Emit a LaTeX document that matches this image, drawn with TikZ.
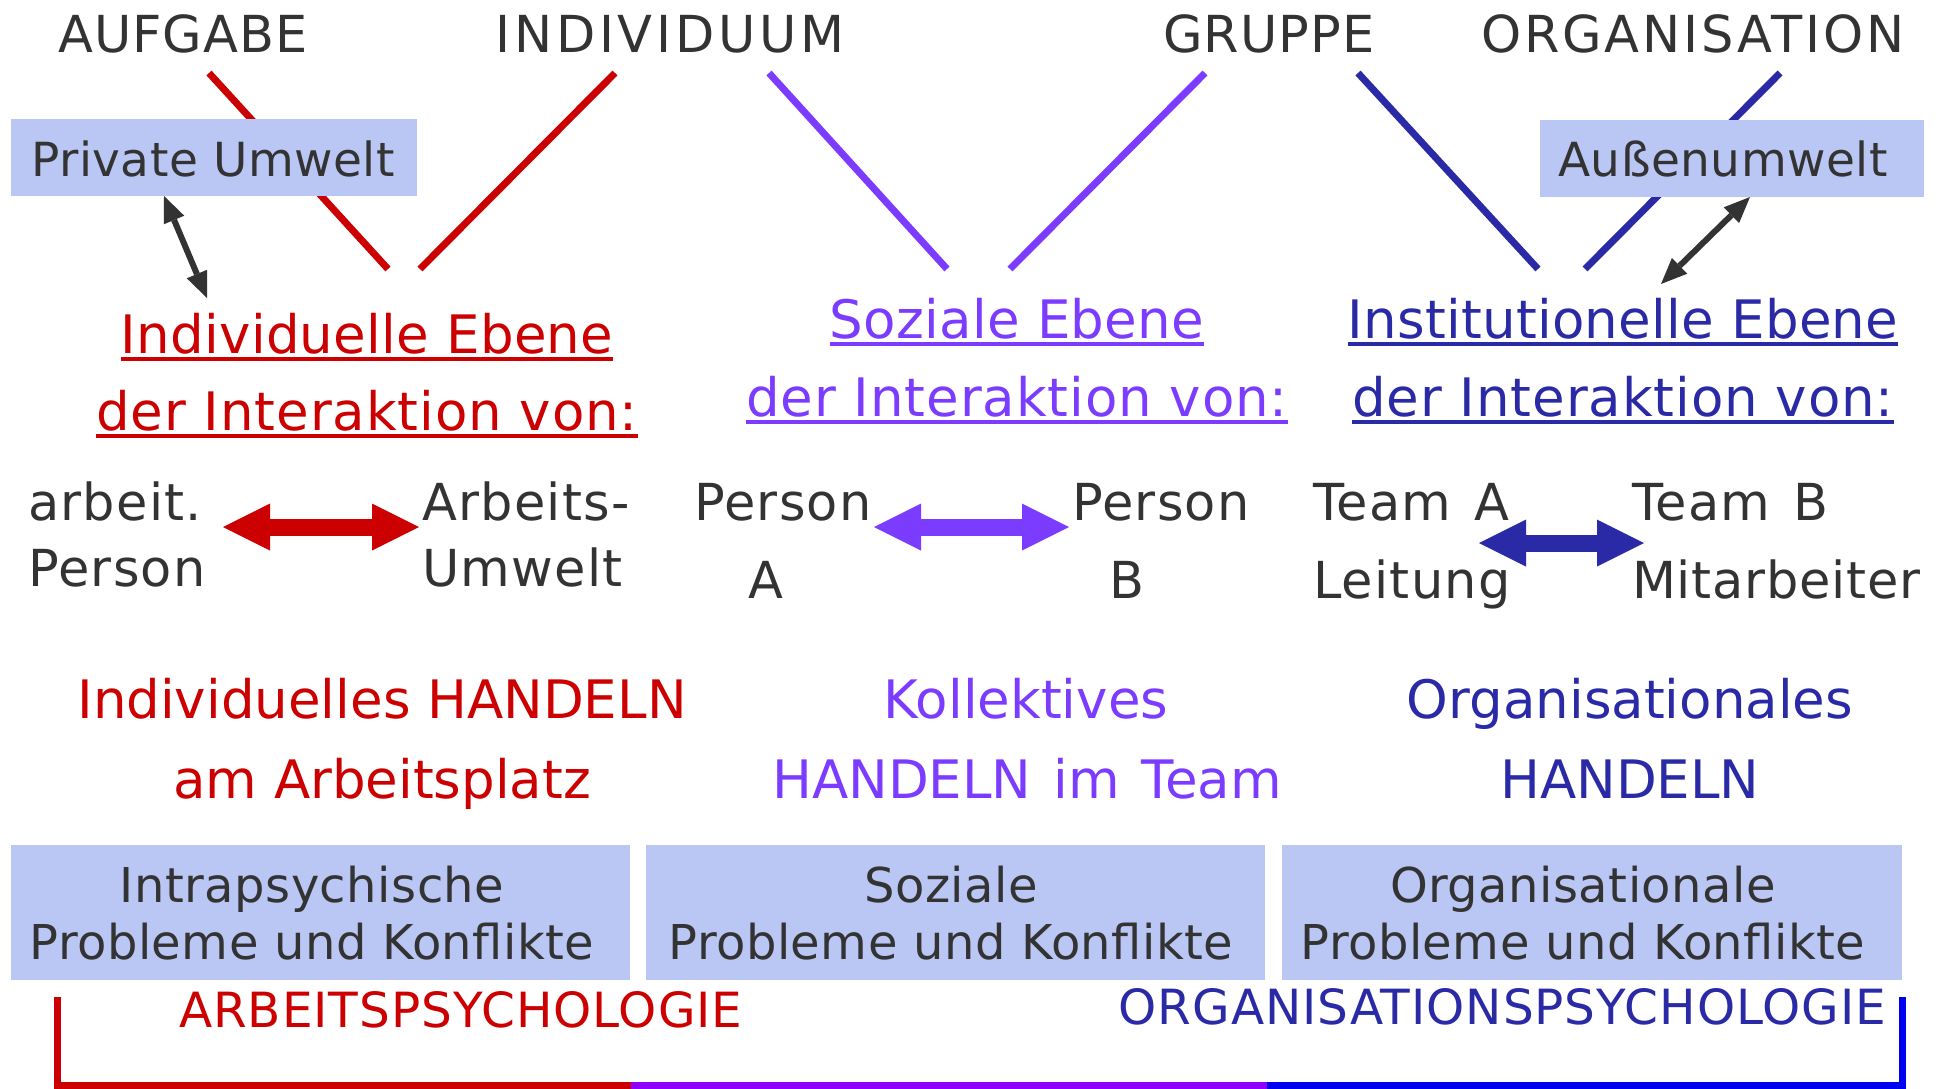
\documentclass[tikz,border=0pt]{standalone}
\usepackage{fontspec}
\setmainfont{DejaVu Sans}
\usetikzlibrary{arrows.meta}
\definecolor{cred}{HTML}{CC0000}
\definecolor{cpur}{HTML}{7B3CFF}
\definecolor{cblu}{HTML}{2A2AA6}
\definecolor{cgray}{HTML}{333333}
\definecolor{cbox}{HTML}{BAC6F3}
\definecolor{bpur}{HTML}{8F00FF}
\definecolor{bblu}{HTML}{0000F0}
\newcommand\lsp[1]{\addfontfeatures{LetterSpace=#1}}
\newcommand\wsp[1]{\spaceskip=#1\fontdimen2\font\relax}
\begin{document}
\begin{tikzpicture}[x=1pt,y=-1pt,
  txt/.style={inner sep=0pt, outer sep=0pt},
  toplabel/.style={txt, anchor=base, text=cgray, font=\fontsize{51}{60}\selectfont\lsp{2}},
  titletxt/.style={txt, anchor=base, font=\fontsize{53}{60}\selectfont\lsp{0.5}},
  titletxtb/.style={txt, anchor=base, font=\fontsize{53}{60}\selectfont\lsp{1.7}},
  inttxt/.style={txt, anchor=base west, text=cgray, font=\fontsize{51}{60}\selectfont\lsp{2.5}\wsp{1.3}},
  intctr/.style={txt, anchor=base, text=cgray, font=\fontsize{51}{60}\selectfont},
  acttxt/.style={txt, anchor=base, font=\fontsize{53}{60}\selectfont},
  boxfill/.style={fill=cbox, draw=none, inner sep=0pt, outer sep=0pt, anchor=north west},
  boxtxt/.style={txt, anchor=base, text=cgray, font=\fontsize{48}{56}\selectfont\lsp{1}},
  smalltxt/.style={txt, anchor=base, text=cgray, font=\fontsize{47}{56}\selectfont\lsp{1}},
  psytxt/.style={txt, font=\fontsize{48.5}{56}\selectfont\lsp{2}},
  vline/.style={line width=7pt},
  uline/.style={line width=4pt},
  blockarrow/.style={line width=17pt, {Triangle[width=47pt,length=47pt,line width=0pt]}-{Triangle[width=47pt,length=47pt,line width=0pt]}},
  smallarrow/.style={cgray, line width=6pt, {Triangle[width=22pt,length=26pt,line width=0pt]}-{Triangle[width=22pt,length=26pt,line width=0pt]}},
  bracket/.style={line width=7pt, line join=miter}
]
\useasboundingbox (0,0) rectangle (1939,1088);

% top labels
\node[toplabel] (aufg) at (183,52) {AUFGABE};
\node[toplabel, font=\fontsize{51}{60}\selectfont\lsp{7.4}] (indiv) at (670,52) {INDIVIDUUM};
\node[toplabel] (grup) at (1269,52) {GRUPPE};
\node[toplabel, font=\fontsize{51}{60}\selectfont\lsp{5.7}] (orga) at (1693,52) {ORGANISATION};

% V lines
\coordinate (r1a) at (209,73);  \coordinate (r1b) at (388,269);
\coordinate (r2a) at (615,73);  \coordinate (r2b) at (420,269);
\coordinate (p1a) at (769,73);  \coordinate (p1b) at (947,269);
\coordinate (p2a) at (1205,73); \coordinate (p2b) at (1010,269);
\coordinate (b1a) at (1358,73); \coordinate (b1b) at (1538,269);
\coordinate (b2a) at (1780,73); \coordinate (b2b) at (1585,269);
\draw[vline, cred] (r1a) -- (r1b);
\draw[vline, cred] (r2a) -- (r2b);
\draw[vline, cpur] (p1a) -- (p1b);
\draw[vline, cpur] (p2a) -- (p2b);
\draw[vline, cblu] (b1a) -- (b1b);
\draw[vline, cblu] (b2a) -- (b2b);

% environment boxes
\node[boxfill, minimum width=406pt, minimum height=77pt] (pu) at (11,119) {};
\node[smalltxt] (putxt) at (213,176) {Private Umwelt};
\node[boxfill, minimum width=384pt, minimum height=77pt] (au) at (1540,120) {};
\node[smalltxt] (autxt) at (1723,176) {Außenumwelt};

% small black arrows
\coordinate (pue) at (207,298);
\draw[smallarrow] ([xshift=153pt]pu.south west) -- (pue);
\coordinate (aue) at (1661,284);
\draw[smallarrow] ([xshift=210pt]au.south west) -- (aue);

% level titles
\node[titletxt, text=cred] (t1a) at (367,353) {Individuelle Ebene};
\node[titletxtb, text=cred] (t1b) at (367,430) {der Interaktion von:};
\node[titletxt, text=cpur] (t2a) at (1017,338) {Soziale Ebene};
\node[titletxtb, text=cpur] (t2b) at (1017,416) {der Interaktion von:};
\node[titletxt, text=cblu] (t3a) at (1623,338) {Institutionelle Ebene};
\node[titletxtb, text=cblu] (t3b) at (1623,416) {der Interaktion von:};
\draw[uline, cred] ([yshift=-6pt]t1a.base west) -- ([yshift=-6pt]t1a.base east);
\draw[uline, cred] ([yshift=-6pt]t1b.base west) -- ([yshift=-6pt]t1b.base east);
\draw[uline, cpur] ([yshift=-6pt]t2a.base west) -- ([yshift=-6pt]t2a.base east);
\draw[uline, cpur] ([yshift=-6pt]t2b.base west) -- ([yshift=-6pt]t2b.base east);
\draw[uline, cblu] ([yshift=-6pt]t3a.base west) -- ([yshift=-6pt]t3a.base east);
\draw[uline, cblu] ([yshift=-6pt]t3b.base west) -- ([yshift=-6pt]t3b.base east);

% interaction partners
\node[inttxt] (ap1) at (28,520) {arbeit.};
\node[inttxt] (ap2) at (28,586) {Person};
\node[inttxt] (aw1) at (422,520) {Arbeits-};
\node[inttxt] (aw2) at (422,586) {Umwelt};
\node[inttxt] (pa1) at (694,520) {Person};
\node[intctr] (pa2) at (766,598) {A};
\node[inttxt] (pb1) at (1072,520) {Person};
\node[intctr] (pb2) at (1127,598) {B};
\node[inttxt] (ta1) at (1313,520) {Team A};
\node[inttxt] (ta2) at (1313,598) {Leitung};
\node[inttxt] (tb1) at (1632,520) {Team B};
\node[inttxt, font=\fontsize{51}{60}\selectfont\lsp{1.6}] (tb2) at (1632,598) {Mitarbeiter};

% block arrows
\coordinate (ra1) at (223,527); \coordinate (ra2) at (419,527);
\coordinate (pa1e) at (874,527); \coordinate (pa2e) at (1069,527);
\coordinate (ba1) at (1479,543); \coordinate (ba2) at (1644,543);
\draw[blockarrow, cred] (ra1) -- (ra2);
\draw[blockarrow, cpur] (pa1e) -- (pa2e);
\draw[blockarrow, cblu] (ba1) -- (ba2);

% action
\node[acttxt, text=cred] (h1a) at (382,718) {Individuelles HANDELN};
\node[acttxt, text=cred] (h1b) at (382,798) {am Arbeitsplatz};
\node[acttxt, text=cpur] (h2a) at (1026,718) {Kollektives};
\node[acttxt, text=cpur, font=\fontsize{53}{60}\selectfont\wsp{1.3}] (h2b) at (1027,798) {HANDELN im Team};
\node[acttxt, text=cblu] (h3a) at (1630,718) {Organisationales};
\node[acttxt, text=cblu] (h3b) at (1630,798) {HANDELN};

% problem boxes
\node[boxfill, minimum width=619pt, minimum height=135pt] (pb1box) at (11,845) {};
\node[boxfill, minimum width=619pt, minimum height=135pt] (pb2box) at (646,845) {};
\node[boxfill, minimum width=620pt, minimum height=135pt] (pb3box) at (1282,845) {};
\node[boxtxt] (k1a) at (312,902) {Intrapsychische};
\node[boxtxt] (k1b) at (312,959) {Probleme und Konflikte};
\node[boxtxt] (k2a) at (951,902) {Soziale};
\node[boxtxt] (k2b) at (951,959) {Probleme und Konflikte};
\node[boxtxt] (k3a) at (1583,902) {Organisationale};
\node[boxtxt] (k3b) at (1583,959) {Probleme und Konflikte};

% psychology labels
\node[psytxt, anchor=base west, text=cred] (arb) at (179,1027) {ARBEITSPSYCHOLOGIE};
\node[psytxt, anchor=base east, text=cblu] (org) at (1886,1024) {ORGANISATIONSPSYCHOLOGIE};

% bracket
\coordinate (bl1) at (57,997);
\coordinate (bl2) at (57,1085);
\coordinate (bm1) at (631,1085);
\coordinate (bm2) at (1267,1085);
\coordinate (br2) at (1902,1085);
\coordinate (br1) at (1902,997);
\draw[bracket, cred] (bl1) -- (bl2) -- (bm1);
\draw[bracket, bpur] (bm1) -- (bm2);
\draw[bracket, bblu] (bm2) -- (br2) -- (br1);
\end{tikzpicture}
\end{document}
